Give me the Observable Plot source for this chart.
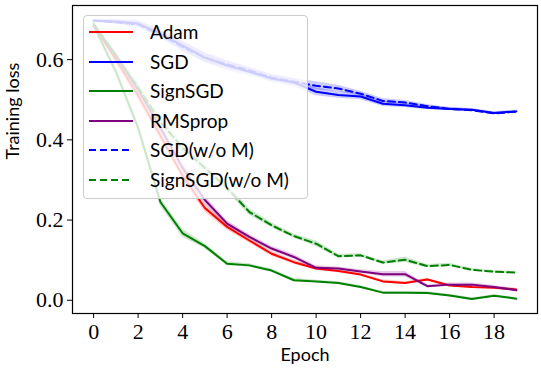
<!DOCTYPE html>
<html><head><meta charset="utf-8">
<script src="https://cdn.jsdelivr.net/npm/d3@7"></script>
<script src="https://cdn.jsdelivr.net/npm/@observablehq/plot@0.6"></script>
<style>
body{margin:0;background:#fff;}
#wrap{position:relative;width:541px;height:376px;}
#legend{position:absolute;left:83px;top:15px;width:223px;height:182px;border:1px solid #cccccc;border-radius:4px;background:rgba(255,255,255,0.8);font-family:"Lato",sans-serif;font-size:19px;color:#000;}
.row{position:absolute;left:0;height:24px;width:222px;}
.row svg{position:absolute;left:5px;top:10px;}
.row span{position:absolute;left:66px;top:0;line-height:24px;white-space:nowrap;}
</style>
</head><body>
<div id="wrap"><div id="chart"></div><div id="legend"></div></div>
<script>
const epochs = [0,1,2,3,4,5,6,7,8,9,10,11,12,13,14,15,16,17,18,19];
const xTicks = [0,2,4,6,8,10,12,14,16,18];
const yTicks = [0.0,0.2,0.4,0.6];
const names = ["Adam","SGD","SignSGD","RMSprop","SGD(w/o M)","SignSGD(w/o M)"];

const adam      = [0.685,0.60,0.51,0.41,0.31,0.23,0.183,0.149,0.116,0.095,0.079,0.073,0.064,0.047,0.043,0.052,0.037,0.033,0.031,0.027];
const sgd       = [0.697,0.695,0.69,0.665,0.635,0.605,0.585,0.57,0.553,0.543,0.52,0.512,0.508,0.49,0.486,0.48,0.477,0.475,0.467,0.471];
const signsgd   = [0.685,0.57,0.43,0.245,0.167,0.135,0.091,0.087,0.074,0.05,0.047,0.043,0.033,0.019,0.019,0.018,0.012,0.003,0.011,0.004];
const rmsprop   = [0.686,0.61,0.525,0.43,0.33,0.25,0.191,0.158,0.129,0.108,0.081,0.079,0.072,0.065,0.065,0.035,0.039,0.039,0.033,0.025];
const sgdNoM    = [0.697,0.693,0.688,0.662,0.632,0.605,0.588,0.573,0.555,0.545,0.535,0.528,0.515,0.497,0.493,0.484,0.477,0.474,0.466,0.47];
const signNoM   = [0.69,0.61,0.53,0.445,0.38,0.33,0.28,0.22,0.187,0.16,0.141,0.11,0.112,0.094,0.101,0.085,0.088,0.076,0.071,0.069];

const adamStd    = [0.003,0.01,0.012,0.012,0.01,0.01,0.008,0.006,0.006,0.005,0.005,0.004,0.004,0.004,0.003,0.003,0.003,0.003,0.003,0.003];
const sgdStd     = [0.003,0.005,0.008,0.01,0.012,0.012,0.012,0.01,0.01,0.01,0.01,0.008,0.008,0.007,0.006,0.005,0.004,0.003,0.003,0.003];
const signStd    = [0.003,0.01,0.012,0.01,0.01,0.006,0.005,0.004,0.004,0.004,0.003,0.003,0.003,0.003,0.003,0.003,0.003,0.003,0.003,0.003];
const rmsStd     = [0.003,0.01,0.012,0.012,0.012,0.01,0.007,0.006,0.006,0.006,0.005,0.004,0.004,0.007,0.007,0.004,0.004,0.004,0.004,0.004];
const sgdNoMStd  = [0.003,0.005,0.008,0.01,0.012,0.012,0.01,0.008,0.008,0.008,0.01,0.008,0.006,0.006,0.005,0.004,0.003,0.003,0.003,0.003];
const signNoMStd = [0.003,0.01,0.012,0.012,0.01,0.01,0.008,0.008,0.006,0.005,0.007,0.005,0.004,0.004,0.007,0.004,0.004,0.003,0.003,0.003];

const colors = ["#ff0000","#0000ff","#008000","#800080","#0000ff","#008000"];
const dashes = [null,null,null,null,"7,4","7,4"];

const seriesVals = [adam, sgd, signsgd, rmsprop, sgdNoM, signNoM];
const seriesStd = [adamStd, sgdStd, signStd, rmsStd, sgdNoMStd, signNoMStd];

const tables = names.map((n, i) => epochs.map((e, j) => ({
  name: n, epoch: e, loss: seriesVals[i][j], lo: seriesVals[i][j] - seriesStd[i][j], hi: seriesVals[i][j] + seriesStd[i][j]
})));

const dataMarks = [];
tables.forEach((t, i) => {
  dataMarks.push(Plot.areaY(t, {x: "epoch", y1: "lo", y2: "hi", fill: "name", fillOpacity: 0.2}));
  dataMarks.push(Plot.lineY(t, {x: "epoch", y: "loss", stroke: "name", strokeWidth: 2, strokeDasharray: dashes[i] || undefined}));
});

const plot = Plot.plot({
  width: 541, height: 376,
  marginLeft: 72, marginRight: 4, marginTop: 5, marginBottom: 63,
  x: {domain: [-0.95, 19.95]},
  y: {domain: [-0.033, 0.735]},
  color: {domain: names, range: colors},
  style: {background: "white", color: "black"},
  marks: [
    ...dataMarks,
    Plot.frame({stroke: "black", strokeWidth: 1.2}),
    Plot.axisX({ticks: xTicks, tickSize: 5, tickPadding: 5, fontSize: 22, fontFamily: "Liberation Serif", tickFormat: d => String(d), label: null}),
    Plot.axisY({ticks: yTicks, tickSize: 5, tickPadding: 4, fontSize: 22, fontFamily: "Liberation Serif", tickFormat: d3.format(".1f"), label: null}),
    Plot.text(["Epoch"], {text: d => d, frameAnchor: "bottom", dy: 47, fontSize: 18, fontFamily: "Lato", fill: "black"}),
    Plot.text(["Training loss"], {text: d => d, frameAnchor: "left", rotate: -90, dx: -59, fontSize: 18, fontFamily: "Lato", fill: "black"})
  ]
});
document.getElementById("chart").appendChild(plot);

const legend = document.getElementById("legend");
const rowTops = [4, 33.5, 63, 92.5, 122, 151.5];
names.forEach((n, i) => {
  const row = document.createElement("div");
  row.className = "row";
  row.style.top = rowTops[i] + "px";
  const dash = dashes[i] ? ` stroke-dasharray="${dashes[i]}"` : "";
  row.innerHTML = `<svg width="44" height="4"><line x1="0" y1="2" x2="44" y2="2" stroke="${colors[i]}" stroke-width="2"${dash}/></svg><span>${n}</span>`;
  legend.appendChild(row);
});
</script>
</body></html>
